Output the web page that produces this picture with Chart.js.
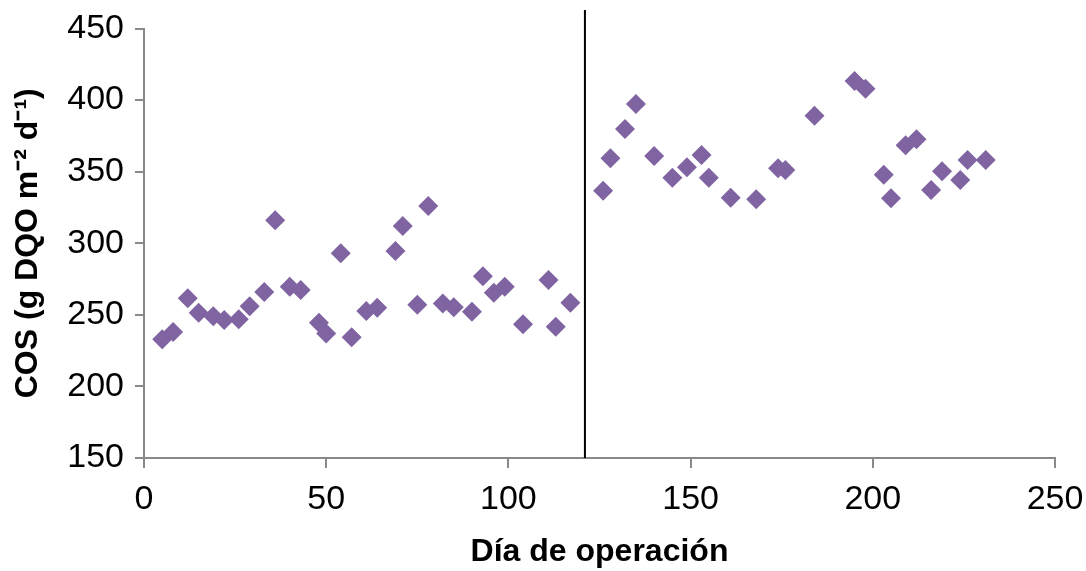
<!DOCTYPE html>
<html>
<head>
<meta charset="utf-8">
<script src="https://cdn.jsdelivr.net/npm/chart.js@4/dist/chart.umd.min.js"></script>
<style>
  html, body { margin: 0; padding: 0; background: #ffffff; }
  #wrap { width: 1086px; height: 571px; }
  canvas { display: block; }
</style>
</head>
<body>
<div id="wrap"><canvas id="c" width="1086" height="571"></canvas></div>
<script>
// Día de operación
const days = [5, 8, 12, 15, 19, 22, 26, 29, 33, 36, 40, 43, 48, 50, 54, 57, 61, 64, 69, 71, 75, 78, 82, 85, 90, 93, 96, 99, 104, 111, 113, 117,
  126, 128, 132, 135, 140, 145, 149, 153, 155, 161, 168, 174, 176, 184, 195, 198, 203, 205, 209, 212, 216, 219, 224, 226, 231];
// COS (g DQO m-2 d-1)
const cosValues = [233, 238, 261.6, 251.5, 249, 246.4, 247, 256, 266, 316, 269.7, 267.4, 244.5, 237, 293, 234.3, 252.7, 255, 294.6, 312, 257, 326, 258, 255.3, 252.2, 277, 265.5, 269.7, 243.4, 274.3, 241.7, 258.5,
  336.7, 359.3, 379.8, 397.3, 361, 345.8, 353, 361.6, 345.8, 331.8, 330.7, 352.4, 351.2, 389, 413.3, 408, 347.9, 331.4, 368.4, 372.6, 337.2, 350.3, 344.2, 358.2, 358.2];
// Phase divider
const dividerDays = [121, 121];
const dividerCos = [150, 463];
// Axis ticks
const xTickValues = [0, 50, 100, 150, 200, 250];
const yTickValues = [150, 200, 250, 300, 350, 400, 450];

const FONT = "'Liberation Sans', Arial, Helvetica, sans-serif";
const axisGray = '#898989';

const points = days.map((d, i) => ({ x: d, y: cosValues[i] }));
const divider = dividerDays.map((d, i) => ({ x: d, y: dividerCos[i] }));

new Chart(document.getElementById('c'), {
  type: 'scatter',
  data: {
    datasets: [
      {
        label: 'COS',
        data: points,
        pointStyle: 'rectRot',
        pointRadius: 10,
        pointHoverRadius: 10,
        backgroundColor: '#8064A2',
        borderColor: '#8064A2',
        borderWidth: 0,
        showLine: false
      },
      {
        label: 'divider',
        data: divider,
        showLine: true,
        pointRadius: 0,
        borderColor: '#000000',
        borderWidth: 2,
        clip: false
      }
    ]
  },
  options: {
    responsive: false,
    animation: false,
    devicePixelRatio: 1,
    layout: { padding: { left: 0, right: 31, top: 28.5, bottom: 0 } },
    plugins: {
      legend: { display: false },
      tooltip: { enabled: false }
    },
    scales: {
      x: {
        type: 'linear',
        min: 0, max: 250,
        afterBuildTicks: (s) => { s.ticks = xTickValues.map(v => ({ value: v })); },
        afterFit: (s) => { s.height = 571 - 458; s.paddingLeft = 0; s.paddingRight = 0; },
        border: { display: true, color: axisGray, width: 2 },
        grid: { drawOnChartArea: false, drawTicks: true, tickLength: 10, color: axisGray, lineWidth: 2 },
        ticks: { color: '#000', padding: 11, font: { family: FONT, size: 34 }, maxRotation: 0 },
        title: { display: true, text: 'Día de operación', color: '#000', font: { family: FONT, size: 32, weight: 'bold' }, padding: { top: 4, bottom: 0 } }
      },
      y: {
        type: 'linear',
        min: 150, max: 450,
        afterBuildTicks: (s) => { s.ticks = yTickValues.map(v => ({ value: v })); },
        afterFit: (s) => { s.width = 144; s.paddingTop = 0; s.paddingBottom = 0; },
        border: { display: true, color: axisGray, width: 2 },
        grid: { drawOnChartArea: false, drawTicks: true, tickLength: 9, color: axisGray, lineWidth: 2 },
        ticks: { color: '#000', padding: 11, font: { family: FONT, size: 34 } },
        title: { display: true, text: 'COS (g DQO m⁻² d⁻¹)', color: '#000', font: { family: FONT, size: 32, weight: 'bold' }, padding: { top: 9, bottom: 0 } }
      }
    }
  }
});
</script>
</body>
</html>
